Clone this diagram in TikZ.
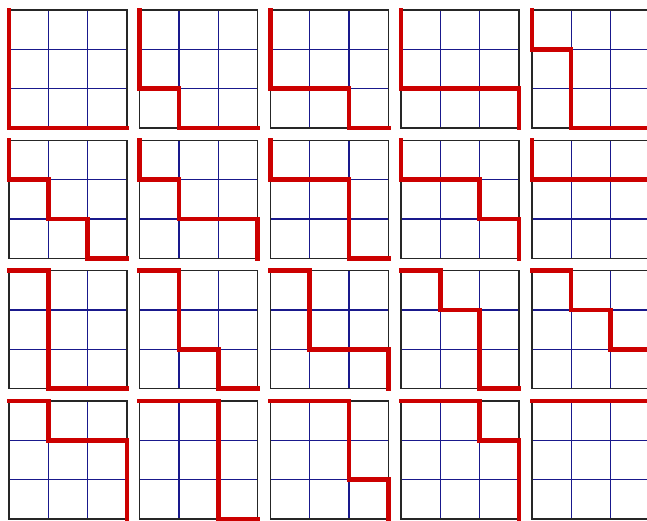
\documentclass[tikz,border=0pt]{standalone}
\usepackage{tikz}
\definecolor{pathred}{RGB}{204,0,0}
\definecolor{gridblue}{RGB}{25,25,140}
\tikzset{
  outerline/.style={line width=1.3pt, black!85},
  innerline/.style={line width=1.1pt, gridblue},
  latticepath/.style={line width=4.6pt, pathred, line cap=rect, line join=miter}
}

\begin{document}
\begin{tikzpicture}[x=39.3pt,y=39.3pt]
  \useasboundingbox (0,0) rectangle (16.463,13.257);
  \foreach \a/\b/\c [count=\n from 0] in {0/0/0,0/0/1,0/0/2,0/0/3,0/1/1,
      0/1/2,0/1/3,0/2/2,0/2/3,0/3/3,1/1/1,1/1/2,1/1/3,1/2/2,1/2/3,
      1/3/3,2/2/2,2/2/3,2/3/3,3/3/3}{
    \pgfmathsetmacro\gx{0.229+3.326*mod(\n,5)}
    \pgfmathsetmacro\gy{10.0-3.316*floor(\n/5)}
    \begin{scope}[shift={(\gx,\gy)}]
      \draw[innerline] (1,0) -- (1,3) (2,0) -- (2,3) (0,1) -- (3,1) (0,2) -- (3,2);
      \draw[outerline] (0,0) rectangle (3,3);
      \draw[latticepath] (0,3) -- (\a,3) -- (\a,2) -- (\b,2) -- (\b,1) -- (\c,1) -- (\c,0) -- (3,0);
    \end{scope}
  }
\end{tikzpicture}
\end{document}
